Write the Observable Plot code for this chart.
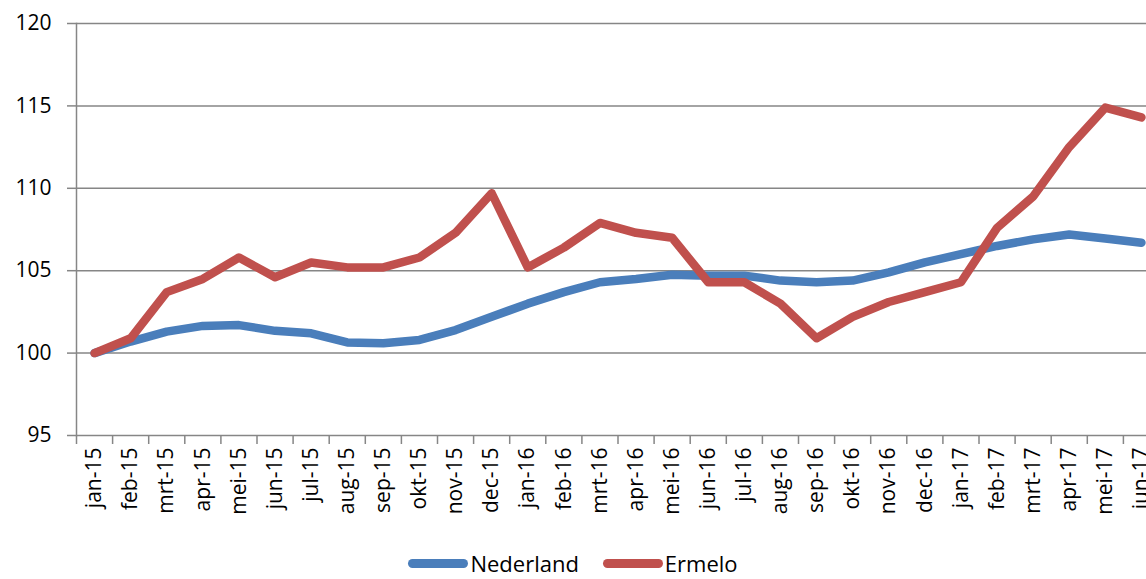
<!DOCTYPE html>
<html>
<head>
<meta charset="utf-8">
<script src="https://cdn.jsdelivr.net/npm/d3@7"></script>
<script src="https://cdn.jsdelivr.net/npm/@observablehq/plot@0.6"></script>
<style>
  html, body { margin: 0; padding: 0; background: #fff; overflow: hidden; width: 1146px; height: 579px; }
  #chart svg { display: block; max-width: none !important; }
  .legend { position: absolute; top: 551px; left: 0; width: 1146px; display: flex; justify-content: center; align-items: center; font-family: "Open Sans", sans-serif; font-size: 22px; line-height: 24px; color: #000; }
  .item { display: flex; align-items: center; margin: 0 12px; }
  .sw { width: 60px; height: 9px; border-radius: 4.5px; margin-right: 2px; }
</style>
</head>
<body>
<div id="chart"></div>
<div class="legend">
  <div class="item"><div class="sw" style="background:#4A7EBB"></div><span>Nederland</span></div>
  <div class="item"><div class="sw" style="background:#C0504D"></div><span>Ermelo</span></div>
</div>
<script>
const months = ["jan-15","feb-15","mrt-15","apr-15","mei-15","jun-15","jul-15","aug-15","sep-15","okt-15","nov-15","dec-15",
  "jan-16","feb-16","mrt-16","apr-16","mei-16","jun-16","jul-16","aug-16","sep-16","okt-16","nov-16","dec-16",
  "jan-17","feb-17","mrt-17","apr-17","mei-17","jun-17"];
const nederland = [100, 100.7, 101.3, 101.65, 101.7, 101.35, 101.2, 100.65, 100.6, 100.8, 101.4, 102.2,
  103.0, 103.7, 104.3, 104.5, 104.75, 104.7, 104.7, 104.4, 104.3, 104.4, 104.9, 105.5,
  106.0, 106.5, 106.9, 107.2, 106.95, 106.7];
const ermelo = [100, 100.9, 103.7, 104.5, 105.8, 104.6, 105.5, 105.2, 105.2, 105.8, 107.3, 109.7,
  105.2, 106.4, 107.9, 107.3, 107.0, 104.3, 104.3, 103.0, 100.9, 102.2, 103.1, 103.7,
  104.3, 107.6, 109.5, 112.5, 114.9, 114.3];
const yTicks = [95, 100, 105, 110, 115, 120];

const rows = (vals) => vals.map((v, i) => ({i: i + 0.5, v}));
const font = "'Open Sans', sans-serif";

const chart = Plot.plot({
  width: 1159,
  height: 535,
  marginLeft: 76,
  marginRight: 0,
  marginTop: 23,
  marginBottom: 100,
  style: {fontFamily: font, fontSize: "21px", color: "#000", background: "#fff", overflow: "visible"},
  x: {domain: [0, months.length], range: [76, 1159]},
  y: {domain: [95, 120]},
  marks: [
    Plot.gridY(yTicks, {stroke: "#868686", strokeOpacity: 1, strokeWidth: 1.5}),
    Plot.frame({anchor: "left", stroke: "#868686", strokeWidth: 1.5}),
    Plot.axisY({ticks: yTicks, tickSize: 9, tickPadding: 16, stroke: "#868686", strokeWidth: 1.5, fontSize: 21, label: null}),
    Plot.axisX({ticks: d3.range(months.length + 1), tickSize: 9, tickFormat: () => "", stroke: "#868686", strokeWidth: 1.5, label: null}),
    Plot.axisX({ticks: d3.range(months.length).map(i => i + 0.5), tickSize: 0, tickPadding: 12, tickRotate: -90,
      tickFormat: d => months[Math.floor(d)], fontSize: 21, label: null}),
    Plot.line(rows(nederland), {x: "i", y: "v", stroke: "#4A7EBB", strokeWidth: 8.5, strokeLinecap: "round"}),
    Plot.line(rows(ermelo), {x: "i", y: "v", stroke: "#C0504D", strokeWidth: 8.5, strokeLinecap: "round"})
  ]
});
document.getElementById("chart").appendChild(chart);
</script>
</body>
</html>
